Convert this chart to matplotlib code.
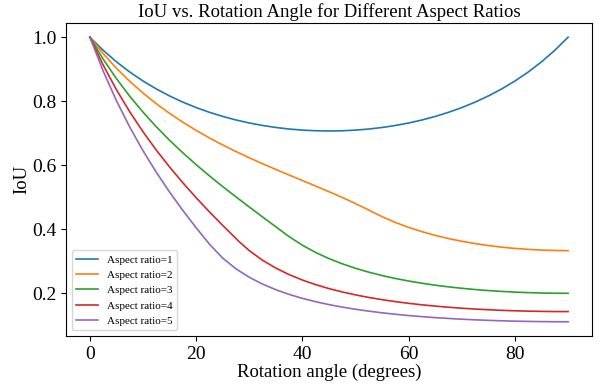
import matplotlib
matplotlib.use("Agg")
import matplotlib.pyplot as plt

plt.rcParams['font.family'] = ['Liberation Serif', 'DejaVu Serif']

# Aspect ratio 1
angles_r1 = [0, 2.5, 5, 7.5, 10, 12.5, 15, 17.5, 20, 22.5, 25, 27.5, 30, 32.5, 35, 37.5, 40,
             42.5, 45, 47.5, 50, 52.5, 55, 57.5, 60, 62.5, 65, 67.5, 70, 72.5, 75, 77.5, 80,
             82.5, 85, 87.5, 90]
iou_r1 = [1.0, 0.9591, 0.9231, 0.8913, 0.8632, 0.8384, 0.8165, 0.7972, 0.7802, 0.7654,
          0.7525, 0.7414, 0.7321, 0.7243, 0.7180, 0.7132, 0.7098, 0.7078, 0.7071,
          0.7078, 0.7098, 0.7132, 0.7180, 0.7243, 0.7321, 0.7414, 0.7525, 0.7654,
          0.7802, 0.7972, 0.8165, 0.8384, 0.8632, 0.8913, 0.9231, 0.9591, 1.0]

# Aspect ratio 2
angles_r2 = [0, 2.5, 5, 7.5, 10, 12.5, 15, 17.5, 20, 22.5, 25, 27.5, 30, 32.5, 35, 37.5, 40,
             42.5, 45, 47.5, 50, 52.5, 53.13, 55, 57.5, 60, 62.5, 65, 67.5, 70, 72.5, 75,
             77.5, 80, 82.5, 85, 87.5, 90]
iou_r2 = [1.0, 0.9487, 0.9030, 0.8622, 0.8255, 0.7922, 0.7620, 0.7343, 0.7089, 0.6853,
          0.6634, 0.6428, 0.6233, 0.6047, 0.5869, 0.5694, 0.5522, 0.5350, 0.5174, 0.4993,
          0.4803, 0.4600, 0.4545, 0.4393, 0.4213, 0.4058, 0.3925, 0.3809, 0.3710, 0.3625,
          0.3553, 0.3492, 0.3442, 0.3402, 0.3372, 0.3350, 0.3338, 0.3333]

# Aspect ratio 3
angles_r3 = [0, 2.5, 5, 7.5, 10, 12.5, 15, 17.5, 20, 22.5, 25, 27.5, 30, 32.5, 35, 36.87,
             37.5, 40, 42.5, 45, 47.5, 50, 52.5, 55, 57.5, 60, 62.5, 65, 67.5, 70, 72.5, 75,
             77.5, 80, 82.5, 85, 87.5, 90]
iou_r3 = [1.0, 0.9315, 0.8705, 0.8156, 0.7658, 0.7202, 0.6780, 0.6388, 0.6018, 0.5669,
          0.5334, 0.5011, 0.4695, 0.4385, 0.4077, 0.3846, 0.3770, 0.3501, 0.3275, 0.3084,
          0.2921, 0.2781, 0.2660, 0.2554, 0.2463, 0.2383, 0.2314, 0.2253, 0.2201, 0.2156,
          0.2118, 0.2085, 0.2059, 0.2037, 0.2021, 0.2009, 0.2002, 0.2000]

# Aspect ratio 4
angles_r4 = [0, 2.5, 5, 7.5, 10, 12.5, 15, 17.5, 20, 22.5, 25, 27.5, 28.07, 30, 32.5, 35,
             37.5, 40, 42.5, 45, 47.5, 50, 52.5, 55, 57.5, 60, 62.5, 65, 67.5, 70, 72.5, 75,
             77.5, 80, 82.5, 85, 87.5, 90]
iou_r4 = [1.0, 0.9130, 0.8360, 0.7670, 0.7045, 0.6473, 0.5945, 0.5451, 0.4986, 0.4544,
          0.4120, 0.3710, 0.3617, 0.3333, 0.3032, 0.2787, 0.2584, 0.2414, 0.2270, 0.2147,
          0.2042, 0.1950, 0.1870, 0.1801, 0.1740, 0.1687, 0.1640, 0.1600, 0.1565, 0.1534,
          0.1508, 0.1487, 0.1468, 0.1454, 0.1443, 0.1435, 0.1430, 0.1429]

# Aspect ratio 5
angles_r5 = [0, 2.5, 5, 7.5, 10, 12.5, 15, 17.5, 20, 22.5, 22.62, 25, 27.5, 30, 32.5, 35,
             37.5, 40, 42.5, 45, 47.5, 50, 52.5, 55, 57.5, 60, 62.5, 65, 67.5, 70, 72.5, 75,
             77.5, 80, 82.5, 85, 87.5, 90]
iou_r5 = [1.0, 0.8942, 0.8016, 0.7193, 0.6453, 0.5781, 0.5162, 0.4587, 0.4048, 0.3537,
          0.3514, 0.3100, 0.2764, 0.2500, 0.2287, 0.2112, 0.1966, 0.1842, 0.1737, 0.1647,
          0.1569, 0.1501, 0.1442, 0.1391, 0.1345, 0.1305, 0.1271, 0.1240, 0.1214, 0.1191,
          0.1171, 0.1155, 0.1141, 0.1130, 0.1122, 0.1116, 0.1112, 0.1111]

labels = ["Aspect ratio=1", "Aspect ratio=2", "Aspect ratio=3", "Aspect ratio=4", "Aspect ratio=5"]
series = [(angles_r1, iou_r1), (angles_r2, iou_r2), (angles_r3, iou_r3),
          (angles_r4, iou_r4), (angles_r5, iou_r5)]

fig = plt.figure(figsize=(6.02, 3.85), dpi=100)
ax = fig.add_axes([0.1096, 0.1273, 0.8738, 0.8130])

for (x, y), lab in zip(series, labels):
    ax.plot(x, y, label=lab, linewidth=1.2)

ax.set_title("IoU vs. Rotation Angle for Different Aspect Ratios", fontsize=13.5, pad=4)
ax.set_xlabel("Rotation angle (degrees)", fontsize=13.5, labelpad=1)
ax.set_ylabel("IoU", fontsize=13.5, labelpad=1)
ax.tick_params(axis='both', labelsize=14)
ax.set_xticks([0, 20, 40, 60, 80])
ax.set_yticks([0.2, 0.4, 0.6, 0.8, 1.0])
ax.legend(loc='lower left', fontsize=8)

fig.savefig("out.png", dpi=100)
